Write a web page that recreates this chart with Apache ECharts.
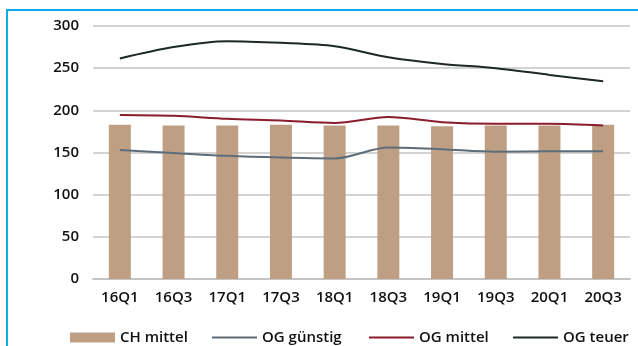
<!DOCTYPE html>
<html>
<head>
<meta charset="utf-8">
<script src="https://cdn.jsdelivr.net/npm/echarts@6/dist/echarts.min.js"></script>
<style>
html,body{margin:0;padding:0;background:#fff;}
#wrap{position:relative;width:638px;height:346px;overflow:hidden;}
#frame{position:absolute;left:6px;top:9px;width:640px;height:400px;border-top:2px solid #0aaae8;border-left:2px solid #0aaae8;box-sizing:border-box;}
#chart{position:absolute;left:0;top:0;width:638px;height:346px;}
</style>
</head>
<body>
<div id="wrap"><div id="frame"></div><div id="chart"></div></div>
<script>
const categories = ['16Q1','16Q3','17Q1','17Q3','18Q1','18Q3','19Q1','19Q3','20Q1','20Q3'];
const chMittel = [183, 182, 182, 183, 182, 182, 181, 182, 182, 183];
const ogGuenstig = [153, 149.5, 146, 144, 143, 156, 154, 151, 151.5, 151.5];
const ogMittel = [194.5, 193.5, 190, 188, 185, 192, 186, 184, 184, 182];
const ogTeuer = [261.5, 275, 282, 280, 276, 263, 255, 250, 242, 234.5];
const yTicks = {min: 0, max: 300, interval: 50};

const font = {fontFamily: 'Open Sans', fontSize: 15, fontWeight: 600, color: '#111'};
function legendAt(left, name, h) {
  return {left: left, top: 330, padding: 0, itemWidth: 45, itemHeight: h, itemGap: 6, icon: 'rect',
    data: [name], textStyle: Object.assign({}, font, {fontSize: 15}), selectedMode: false};
}
const chart = echarts.init(document.getElementById('chart'), null, {renderer: 'canvas'});
chart.setOption({
  animation: false,
  grid: {left: 93, right: 8, top: 26, bottom: 67},
  legend: [
    legendAt(70, 'CH mittel', 10),
    legendAt(212, 'OG günstig', 2),
    legendAt(369, 'OG mittel', 2),
    legendAt(513, 'OG teuer', 2)
  ],
  xAxis: {
    type: 'category', data: categories, boundaryGap: true,
    axisLine: {lineStyle: {color: '#c4c4c4', width: 2}},
    axisTick: {show: false},
    axisLabel: Object.assign({}, font, {margin: 11})
  },
  yAxis: {
    type: 'value', min: yTicks.min, max: yTicks.max, interval: yTicks.interval,
    axisLine: {show: false}, axisTick: {show: false},
    splitLine: {lineStyle: {color: '#c4c4c4', width: 1.5}},
    axisLabel: Object.assign({}, font, {margin: 14})
  },
  series: [
    {name: 'CH mittel', type: 'bar', data: chMittel, barWidth: 22, itemStyle: {color: '#bf9f84'}},
    {name: 'OG günstig', type: 'line', data: ogGuenstig, smooth: 0.3, symbol: 'none', lineStyle: {color: '#5c6d79', width: 2}, itemStyle: {color: '#5c6d79'}},
    {name: 'OG mittel', type: 'line', data: ogMittel, smooth: 0.3, symbol: 'none', lineStyle: {color: '#8a1c2e', width: 2}, itemStyle: {color: '#8a1c2e'}},
    {name: 'OG teuer', type: 'line', data: ogTeuer, smooth: 0.3, symbol: 'none', lineStyle: {color: '#1e2826', width: 2}, itemStyle: {color: '#1e2826'}}
  ]
});
</script>
</body>
</html>
